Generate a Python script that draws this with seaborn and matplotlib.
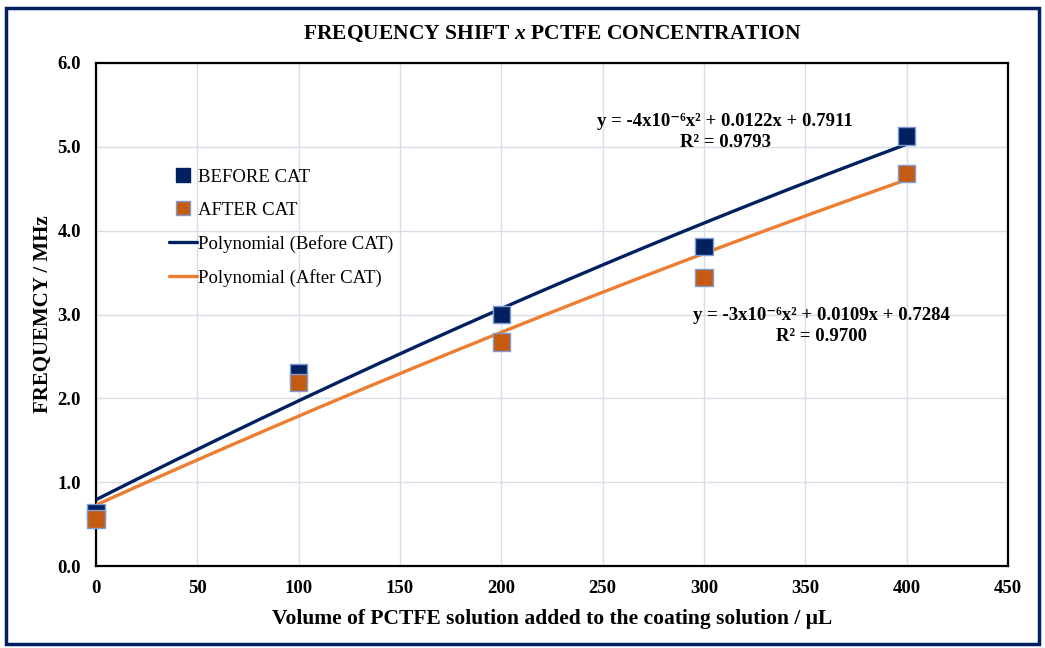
import numpy as np
import pandas as pd
import matplotlib
matplotlib.use("Agg")
import matplotlib.pyplot as plt
from matplotlib.patches import Rectangle
from matplotlib.lines import Line2D
import seaborn as sns

# Measured data
volume_ul = [0, 100, 200, 300, 400]
freq_before = [0.64, 2.31, 3.00, 3.81, 5.13]
freq_after = [0.56, 2.19, 2.67, 3.44, 4.68]

# Second-order polynomial trendline coefficients (a x^2 + b x + c)
coef_before = [-4e-6, 0.0122, 0.7911]
coef_after = [-3e-6, 0.0109, 0.7284]

x_ticks = [0, 50, 100, 150, 200, 250, 300, 350, 400, 450]
y_ticks = [0.0, 1.0, 2.0, 3.0, 4.0, 5.0, 6.0]

navy = "#002060"
orange_pt = "#C55A11"
orange_ln = "#ED7D31"
edge_blue = "#7F9BD3"

sns.set_theme(style="white")
plt.rcParams["font.family"] = ["Liberation Serif", "DejaVu Serif"]
plt.rcParams["text.color"] = "black"
plt.rcParams["axes.labelcolor"] = "black"
plt.rcParams["mathtext.fontset"] = "custom"
plt.rcParams["mathtext.rm"] = "Liberation Serif:bold"
plt.rcParams["mathtext.it"] = "Liberation Serif:italic:bold"
plt.rcParams["mathtext.bf"] = "Liberation Serif:bold"

fig = plt.figure(figsize=(10.45, 6.48), dpi=100)
ax = fig.add_axes([0.0919, 0.1265, 0.8727, 0.7763])

pts = pd.DataFrame({
    "x": volume_ul * 2,
    "y": freq_before + freq_after,
    "series": ["BEFORE CAT"] * 5 + ["AFTER CAT"] * 5,
})

xs = np.linspace(volume_ul[0], volume_ul[-1], 200)
fit = pd.DataFrame({
    "x": np.concatenate([xs, xs]),
    "y": np.concatenate([np.polyval(coef_before, xs), np.polyval(coef_after, xs)]),
    "series": ["Polynomial (Before CAT)"] * len(xs) + ["Polynomial (After CAT)"] * len(xs),
})

sns.lineplot(data=fit, x="x", y="y", hue="series",
             palette={"Polynomial (Before CAT)": navy, "Polynomial (After CAT)": orange_ln},
             linewidth=2.4, ax=ax, legend=False, zorder=3)
sns.scatterplot(data=pts, x="x", y="y", hue="series",
                palette={"BEFORE CAT": navy, "AFTER CAT": orange_pt},
                marker="s", s=160, edgecolor=edge_blue, linewidth=1.0,
                ax=ax, legend=False, zorder=4, clip_on=False)

ax.set_xlim(0, 450)
ax.set_ylim(0, 6)
ax.set_xticks(x_ticks)
ax.set_yticks(y_ticks)
ax.set_xticklabels([str(v) for v in x_ticks], fontsize=13.5, fontweight="bold")
ax.set_yticklabels([f"{v:.1f}" for v in y_ticks], fontsize=13.5, fontweight="bold")
ax.tick_params(axis="both", length=0, colors="black")
ax.tick_params(axis="x", pad=10)
ax.tick_params(axis="y", pad=11)
ax.grid(True, color="#D9DDE8", linewidth=1.0)
ax.set_axisbelow(True)
for sp in ax.spines.values():
    sp.set_visible(True)
    sp.set_color("black")
    sp.set_linewidth(1.6)

ax.set_xlabel("Volume of PCTFE solution added to the coating solution / \u03bcL",
              fontsize=15.5, fontweight="bold", labelpad=9)
ax.set_ylabel("FREQUEMCY / MHz", fontsize=15, fontweight="bold", labelpad=3)
ax.set_title("FREQUENCY SHIFT $\\mathit{x}$ PCTFE CONCENTRATION",
             fontsize=15.5, fontweight="bold", pad=17)

# Trendline equations
ax.text(0.69, 0.862, "y = -4x10\u207b\u2076x\u00b2 + 0.0122x + 0.7911\nR\u00b2 = 0.9793",
        transform=ax.transAxes, ha="center", va="center", fontsize=13.5,
        fontweight="bold", linespacing=1.3)
ax.text(0.795, 0.478, "y = -3x10\u207b\u2076x\u00b2 + 0.0109x + 0.7284\nR\u00b2 = 0.9700",
        transform=ax.transAxes, ha="center", va="center", fontsize=13.5,
        fontweight="bold", linespacing=1.3)

handles = [
    Line2D([], [], linestyle="none", marker="s", markersize=10,
           markerfacecolor=navy, markeredgecolor=navy),
    Line2D([], [], linestyle="none", marker="s", markersize=10,
           markerfacecolor=orange_pt, markeredgecolor=edge_blue),
    Line2D([], [], color=navy, linewidth=2.4),
    Line2D([], [], color=orange_ln, linewidth=2.4),
]
labels = ["BEFORE CAT", "AFTER CAT", "Polynomial (Before CAT)", "Polynomial (After CAT)"]
ax.legend(handles, labels, loc="upper left", bbox_to_anchor=(0.072, 0.805),
          frameon=False, fontsize=13.5, handlelength=1.5, handletextpad=0.05,
          labelspacing=0.85, borderaxespad=0)

# Outer frame around the whole chart
fig.patches.append(Rectangle((0.006, 0.006), 0.988, 0.982, transform=fig.transFigure,
                             fill=False, edgecolor=navy, linewidth=2.5))

fig.savefig("out.png", dpi=100)
